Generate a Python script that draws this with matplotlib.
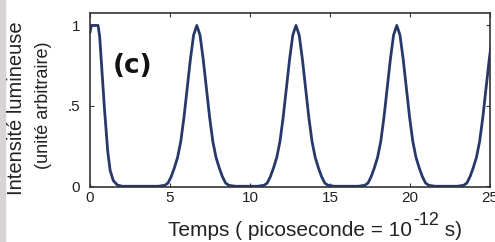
import matplotlib.pyplot as plt
from matplotlib.patches import Rectangle

# time (ps) and intensity
t_ps = [0.0, 0.08, 0.5, 0.6, 0.7, 0.8, 0.9, 1.0, 1.1, 1.25, 1.45, 1.7, 2.0,
        4.27, 4.67, 4.87, 5.07, 5.27, 5.47, 5.67, 5.87, 6.07, 6.27, 6.47, 6.67,
        6.87, 7.07, 7.27, 7.47, 7.67, 7.87, 8.07, 8.27, 8.47, 8.67, 9.07,
        10.47, 10.87, 11.07, 11.27, 11.47, 11.67, 11.87, 12.07, 12.27, 12.47, 12.67, 12.87,
        13.07, 13.27, 13.47, 13.67, 13.87, 14.07, 14.27, 14.47, 14.67, 14.87, 15.27,
        16.77, 17.17, 17.37, 17.57, 17.77, 17.97, 18.17, 18.37, 18.57, 18.77, 18.97, 19.17,
        19.37, 19.57, 19.77, 19.97, 20.17, 20.37, 20.57, 20.77, 20.97, 21.17, 21.57,
        22.95, 23.35, 23.55, 23.75, 23.95, 24.15, 24.35, 24.55, 24.75, 24.95, 25.15, 25.35]
intensity = [0.96, 1.0, 1.0, 0.93, 0.78, 0.63, 0.48, 0.35, 0.22, 0.10, 0.035, 0.008, 0.0,
             0.0, 0.006, 0.02, 0.06, 0.115, 0.18, 0.28, 0.43, 0.61, 0.79, 0.94, 1.0,
             0.94, 0.79, 0.61, 0.43, 0.28, 0.18, 0.115, 0.06, 0.02, 0.006, 0.0,
             0.0, 0.006, 0.02, 0.06, 0.115, 0.18, 0.28, 0.43, 0.61, 0.79, 0.94, 1.0,
             0.94, 0.79, 0.61, 0.43, 0.28, 0.18, 0.115, 0.06, 0.02, 0.006, 0.0,
             0.0, 0.006, 0.02, 0.06, 0.115, 0.18, 0.28, 0.43, 0.61, 0.79, 0.94, 1.0,
             0.94, 0.79, 0.61, 0.43, 0.28, 0.18, 0.115, 0.06, 0.02, 0.006, 0.0,
             0.0, 0.006, 0.02, 0.06, 0.115, 0.18, 0.28, 0.43, 0.61, 0.79, 0.94, 1.0]

xticks = [0, 5, 10, 15, 20, 25]
yticks = [0, 0.5, 1]
ytick_labels = ['0', '.5', '1']

plt.rcParams['font.family'] = ['Liberation Sans', 'DejaVu Sans']

fig = plt.figure(figsize=(4.95, 2.42), dpi=100)
fig.patches.append(Rectangle((0, 0), 5 / 495, 1, transform=fig.transFigure,
                             color='#d9d4d4', zorder=-1))
ax = fig.add_axes([0.182, 0.227, 0.808, 0.721])

ax.plot(t_ps, intensity, color='#27386b', lw=2.0)
ax.set_xlim(0, 25)
ax.set_ylim(-0.005, 1.08)
ax.set_xticks(xticks)
ax.set_yticks(yticks)
ax.set_yticklabels(ytick_labels)
ax.tick_params(direction='in', top=True, right=True, length=3, width=0.8,
               labelsize=11, labelcolor='#222222', color='#333333')
ax.tick_params(axis='y', pad=7)
ax.tick_params(axis='x', pad=3)
for s in ax.spines.values():
    s.set_linewidth(1.2)
    s.set_color('#333333')

# x label in three pieces so the exponent stays big like the original
lab = fig.text(168 / 495, 1 - 236.5 / 242, 'Temps ( picoseconde = 10', fontsize=15,
               ha='left', va='baseline', color='#222222')
sup = ax.annotate('-12', xy=(1, 0), xycoords=lab, xytext=(1, 8.5),
                  textcoords='offset points', fontsize=13, ha='left', va='bottom',
                  color='#222222')
ax.annotate(' s)', xy=(1, 0), xycoords=(sup, lab), xytext=(0, 0),
            textcoords='offset points', fontsize=15, ha='left', va='bottom',
            color='#222222')

ax.text(1.4, 0.75, '(c)', fontsize=19, fontweight='bold', family='DejaVu Sans',
        color='#111111', va='center', ha='left')

fig.text(0.034, 0.554, 'Intensité lumineuse', rotation=90, fontsize=14.5,
         ha='center', va='center', color='#222222')
fig.text(0.087, 0.566, '(unité arbitraire)', rotation=90, fontsize=13,
         ha='center', va='center', color='#222222')

fig.savefig('out.png', dpi=100)
